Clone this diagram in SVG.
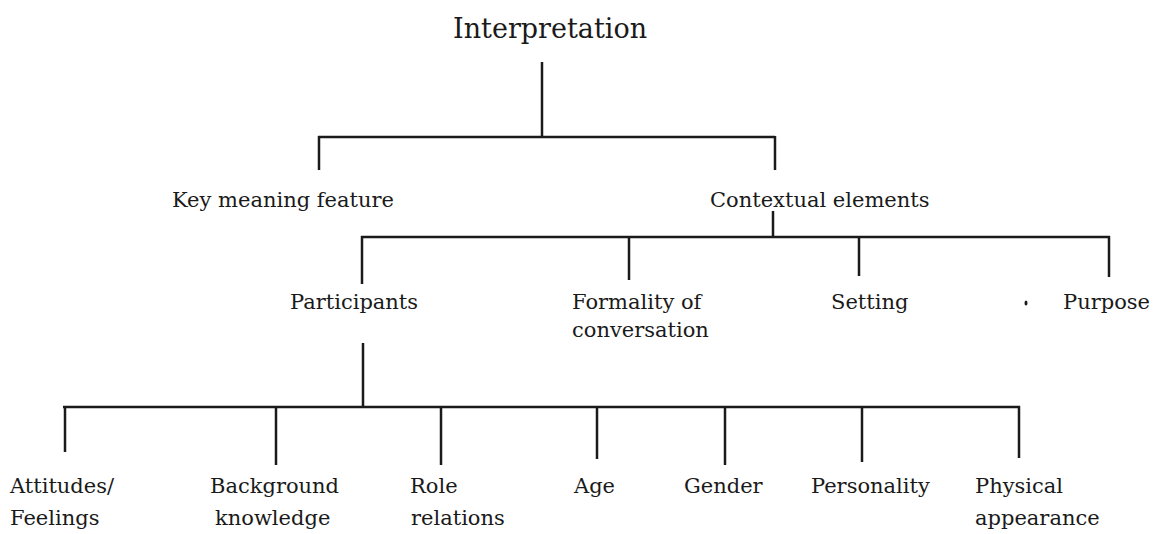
<svg xmlns="http://www.w3.org/2000/svg" width="1162" height="534" viewBox="0 0 1162 534">
<style>
.t{font-family:"DejaVu Serif","Liberation Serif",serif;fill:#1a1a1a;}
.h{font-size:27px;}
.m{font-size:21px;}
.s{font-size:21px;}
.c line{stroke:#1a1a1a;stroke-width:2.5;fill:none;}
</style>
<rect width="1162" height="534" fill="#fff"/>
<g id="connectors" class="c">
<line x1="542" y1="62" x2="542" y2="137"/>
<line x1="318" y1="137" x2="775" y2="137"/>
<line x1="319" y1="136" x2="319" y2="170"/>
<line x1="775" y1="136" x2="775" y2="170"/>
<line x1="773" y1="211" x2="773" y2="237"/>
<line x1="361" y1="237" x2="1110" y2="237"/>
<line x1="362" y1="236" x2="362" y2="284"/>
<line x1="629" y1="236" x2="629" y2="280"/>
<line x1="859" y1="236" x2="859" y2="276"/>
<line x1="1109" y1="236" x2="1109" y2="277"/>
<line x1="363" y1="343" x2="363" y2="407"/>
<line x1="63" y1="407" x2="1020" y2="407"/>
<line x1="65" y1="406" x2="65" y2="452"/>
<line x1="276" y1="406" x2="276" y2="465"/>
<line x1="441" y1="406" x2="441" y2="465"/>
<line x1="597" y1="406" x2="597" y2="459"/>
<line x1="725" y1="406" x2="725" y2="465"/>
<line x1="862" y1="406" x2="862" y2="462"/>
<line x1="1019" y1="406" x2="1019" y2="458"/>
</g>
<g id="interpretation"><text class="t h" x="453" y="38">Interpretation</text></g>
<g id="key-meaning"><text class="t m" x="172" y="207">Key meaning feature</text></g>
<g id="contextual"><text class="t m" x="710" y="207">Contextual elements</text></g>
<g id="participants"><text class="t m" x="290" y="309">Participants</text></g>
<g id="formality"><text class="t m" x="572" y="309">Formality of</text><text class="t m" x="572" y="337">conversation</text></g>
<g id="setting"><text class="t m" x="831" y="309">Setting</text></g>
<g id="purpose"><ellipse cx="1026" cy="303" rx="1.5" ry="2.5" fill="#1a1a1a"/><text class="t m" x="1063" y="309">Purpose</text></g>
<g id="attitudes"><text class="t s" x="10" y="493">Attitudes/</text><text class="t s" x="10" y="525">Feelings</text></g>
<g id="background"><text class="t s" x="210" y="493">Background</text><text class="t s" x="215" y="525">knowledge</text></g>
<g id="role"><text class="t s" x="410" y="493">Role</text><text class="t s" x="411" y="525">relations</text></g>
<g id="age"><text class="t s" x="574" y="493">Age</text></g>
<g id="gender"><text class="t s" x="684" y="493">Gender</text></g>
<g id="personality"><text class="t s" x="811" y="493">Personality</text></g>
<g id="physical"><text class="t s" x="975" y="493">Physical</text><text class="t s" x="975" y="525">appearance</text></g>
</svg>
